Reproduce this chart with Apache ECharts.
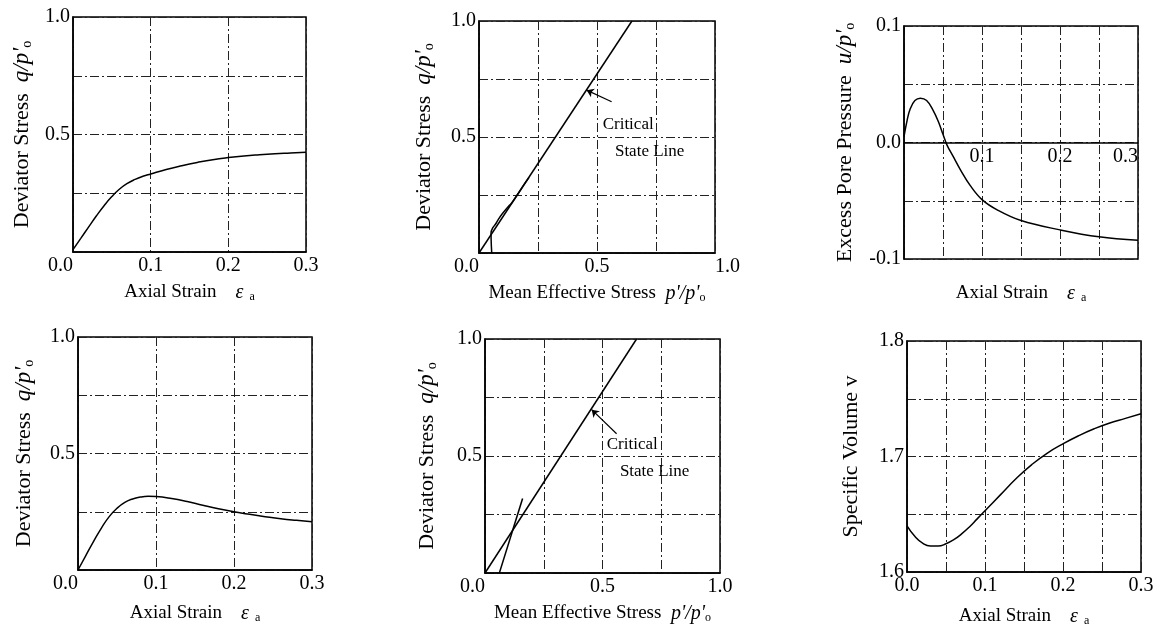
<!DOCTYPE html>
<html>
<head>
<meta charset="utf-8">
<script src="https://cdn.jsdelivr.net/npm/echarts@6/dist/echarts.min.js"></script>
<style>
html,body{margin:0;padding:0;background:#fff;}
#chart{width:1160px;height:628px;}
</style>
</head>
<body>
<div id="chart"></div>
<script>
// ---------- DATA ----------
// Panel 1: deviator stress vs axial strain (top-left)
const p1Strain = [0, 0.01, 0.02, 0.03, 0.04, 0.05, 0.06, 0.07, 0.08, 0.09, 0.10, 0.12, 0.14, 0.16, 0.18, 0.20, 0.22, 0.24, 0.26, 0.28, 0.30];
const p1Stress = [0.01, 0.058, 0.106, 0.153, 0.197, 0.236, 0.268, 0.292, 0.309, 0.322, 0.332, 0.351, 0.367, 0.381, 0.393, 0.402, 0.409, 0.414, 0.418, 0.421, 0.424];

// Panel 2: stress path + critical state line (top-middle)
const p2CslP = [0, 0.648];
const p2CslQ = [0, 1.0];
const p2PathP = [0.054, 0.052, 0.051, 0.058, 0.069, 0.082, 0.097, 0.118, 0.14, 0.162, 0.183, 0.212];
const p2PathQ = [0, 0.04, 0.087, 0.108, 0.123, 0.145, 0.167, 0.193, 0.218, 0.25, 0.283, 0.326];

// Panel 3: excess pore pressure vs axial strain (top-right)
const p3Strain = [0, 0.004, 0.008, 0.014, 0.021, 0.029, 0.037, 0.044, 0.05, 0.055, 0.063, 0.072, 0.085, 0.1, 0.12, 0.15, 0.2, 0.25, 0.3];
const p3Pore = [0.005, 0.019, 0.029, 0.036, 0.038, 0.036, 0.028, 0.018, 0.007, -0.002, -0.012, -0.023, -0.037, -0.049, -0.058, -0.067, -0.075, -0.081, -0.084];

// Panel 4: deviator stress vs axial strain (bottom-left)
const p4Strain = [0, 0.01, 0.02, 0.03, 0.04, 0.05, 0.06, 0.07, 0.08, 0.09, 0.10, 0.12, 0.14, 0.16, 0.18, 0.20, 0.22, 0.24, 0.26, 0.28, 0.30];
const p4Stress = [0, 0.062, 0.123, 0.18, 0.229, 0.265, 0.29, 0.305, 0.313, 0.316, 0.315, 0.307, 0.294, 0.278, 0.263, 0.25, 0.239, 0.229, 0.22, 0.213, 0.207];

// Panel 5: stress path + critical state line (bottom-middle)
const p5CslP = [0, 0.645];
const p5CslQ = [0, 1.0];
const p5PathP = [0.061, 0.16];
const p5PathQ = [0, 0.318];

// Panel 6: specific volume vs axial strain (bottom-right)
const p6Strain = [0, 0.01, 0.02, 0.03, 0.04, 0.05, 0.06, 0.07, 0.08, 0.09, 0.10, 0.12, 0.14, 0.16, 0.18, 0.20, 0.22, 0.24, 0.26, 0.28, 0.30];
const p6Volume = [1.640, 1.631, 1.625, 1.6225, 1.6225, 1.6245, 1.628, 1.633, 1.639, 1.646, 1.653, 1.667, 1.681, 1.693, 1.703, 1.711, 1.718, 1.724, 1.729, 1.733, 1.737];

// Tick labels
const strainTickVals = [0, 0.1, 0.2, 0.3];
const strainTickLabels = ['0.0', '0.1', '0.2', '0.3'];
const poreStrainTickVals = [0.1, 0.2, 0.3];
const poreStrainTickLabels = ['0.1', '0.2', '0.3'];
const unitTickVals = [0, 0.5, 1.0];
const unitTickLabels = ['0.0', '0.5', '1.0'];
const unitYTickVals = [0.5, 1.0];
const unitYTickLabels = ['0.5', '1.0'];
const poreTickVals = [-0.1, 0, 0.1];
const poreTickLabels = ['-0.1', '0.0', '0.1'];
const volTickVals = [1.6, 1.7, 1.8];
const volTickLabels = ['1.6', '1.7', '1.8'];

// Annotation text
const cslText1 = 'Critical';
const cslText2 = 'State Line';

// ---------- HELPERS ----------
const FONT = "'Liberation Serif', 'Times New Roman', 'DejaVu Serif', serif";
function zip(a, b) { return a.map((v, i) => [v, b[i]]); }
function fmt(vals, labels) {
  return function (v) {
    const i = vals.findIndex(t => Math.abs(t - v) < 1e-9);
    return i >= 0 ? labels[i] : '';
  };
}
const gridLine = { show: true, lineStyle: { color: '#222', width: 1, type: [9, 3, 2, 3] } };
function richFor(size) {
  return {
    i: { fontFamily: FONT, fontStyle: 'italic', fontSize: size + 1, color: '#000' },
    s: { fontFamily: FONT, fontSize: Math.round(size * 0.65), color: '#000', padding: [Math.round(size * 0.45), 0, 0, 0] },
    e: { fontFamily: FONT, fontStyle: 'italic', fontSize: size + 1, color: '#000' },
    n: { fontFamily: FONT, fontSize: size, color: '#000' }
  };
}
const xNameStyle = { fontFamily: FONT, fontSize: 19, color: '#000', rich: richFor(19) };
const yNameStyle = { fontFamily: FONT, fontSize: 22, color: '#000', rich: richFor(22) };
const yNameDev = "{n|Deviator Stress  }{i|q/p'}{s|o}";
const xNameStrain = "{n|Axial Strain    }{e|ε}{s|  a}";
const xNameMean = "{n|Mean Effective Stress  }{i|p'/p'}{s|o}";
const yNamePore = "{n|Excess Pore Pressure  }{i|u/p'}{s|o}";
const yNameVol = "{n|Specific Volume v}";

function xAxis(idx, min, max, interval, vals, labels, name, gap, extra) {
  return Object.assign({
    type: 'value', gridIndex: idx, min: min, max: max, interval: interval,
    name: name, nameLocation: 'middle', nameGap: gap, nameTextStyle: xNameStyle,
    axisLine: { show: true, onZero: false, lineStyle: { color: '#000', width: 1.5 } },
    axisTick: { show: false },
    splitLine: gridLine,
    axisLabel: { formatter: fmt(vals, labels), fontFamily: FONT, fontSize: 20, color: '#000', margin: 4 }
  }, extra || {});
}
function yAxis(idx, min, max, interval, vals, labels, name, gap, extra) {
  return Object.assign({
    type: 'value', gridIndex: idx, min: min, max: max, interval: interval,
    name: name, nameLocation: 'middle', nameGap: gap, nameTextStyle: yNameStyle,
    axisLine: { show: true, onZero: false, lineStyle: { color: '#000', width: 1.5 } },
    axisTick: { show: false },
    splitLine: gridLine,
    axisLabel: { formatter: fmt(vals, labels), fontFamily: FONT, fontSize: 20, color: '#000', margin: 3 }
  }, extra || {});
}
const lineStyle = { color: '#000', width: 1.5 };
function curve(idx, data, smooth) {
  return {
    type: 'line', xAxisIndex: idx, yAxisIndex: idx, data: data,
    showSymbol: false, symbol: 'none', smooth: smooth,
    lineStyle: lineStyle, silent: true, animation: false
  };
}
function noteSeries(idx, items) {
  return {
    type: 'scatter', xAxisIndex: idx, yAxisIndex: idx, symbolSize: 0, silent: true, animation: false,
    data: items.map(it => ({ value: [it[0], it[1]], label: { formatter: it[2] } })),
    label: { show: true, position: [0, 0], align: 'left', verticalAlign: 'middle',
      fontFamily: FONT, fontSize: 17, color: '#000', textBorderWidth: 0, opacity: 1 }
  };
}
function arrow(from, to) {
  return {
    silent: true, symbol: ['none', 'arrow'], symbolSize: 7, animation: false,
    lineStyle: { color: '#000', width: 1.2, type: 'solid' }, label: { show: false },
    data: [[{ coord: from }, { coord: to }]]
  };
}

const gridBase = { show: true, borderColor: '#000', borderWidth: 1.5, containLabel: false };

const option = {
  backgroundColor: '#fff',
  animation: false,
  grid: [
    Object.assign({ left: 73, top: 17, width: 233, height: 235 }, gridBase),
    Object.assign({ left: 479, top: 21, width: 236, height: 232 }, gridBase),
    Object.assign({ left: 904, top: 26, width: 234, height: 233 }, gridBase),
    Object.assign({ left: 78, top: 337, width: 234, height: 233 }, gridBase),
    Object.assign({ left: 485, top: 339, width: 235, height: 234 }, gridBase),
    Object.assign({ left: 907, top: 341, width: 234, height: 232 }, gridBase)
  ],
  xAxis: [
    xAxis(0, 0, 0.3, 0.1, strainTickVals, strainTickLabels, xNameStrain, 30),
    xAxis(1, 0, 1.0, 0.25, unitTickVals, unitTickLabels, xNameMean, 30),
    // panel 3: axis line + labels drawn on the zero level (moved up by offset)
    xAxis(2, 0, 0.3, 0.05, poreStrainTickVals, poreStrainTickLabels, '', 0, { offset: -116.5 }),
    xAxis(3, 0, 0.3, 0.1, strainTickVals, strainTickLabels, xNameStrain, 33),
    xAxis(4, 0, 1.0, 0.25, unitTickVals, unitTickLabels, xNameMean, 30),
    xAxis(5, 0, 0.3, 0.05, strainTickVals, strainTickLabels, xNameStrain, 34),
    // panel 3: name-only axis at the bottom of the frame
    {
      type: 'value', gridIndex: 2, min: 0, max: 0.3, interval: 0.05, position: 'bottom',
      name: xNameStrain, nameLocation: 'middle', nameGap: 24, nameTextStyle: xNameStyle,
      axisLine: { show: false }, axisTick: { show: false }, axisLabel: { show: false }, splitLine: { show: false }
    }
  ],
  yAxis: [
    yAxis(0, 0, 1.0, 0.25, unitYTickVals, unitYTickLabels, yNameDev, 39),
    yAxis(1, 0, 1.0, 0.25, unitYTickVals, unitYTickLabels, yNameDev, 43),
    yAxis(2, -0.1, 0.1, 0.05, poreTickVals, poreTickLabels, yNamePore, 47),
    yAxis(3, 0, 1.0, 0.25, unitYTickVals, unitYTickLabels, yNameDev, 42),
    yAxis(4, 0, 1.0, 0.25, unitYTickVals, unitYTickLabels, yNameDev, 46),
    yAxis(5, 1.6, 1.8, 0.05, volTickVals, volTickLabels, yNameVol, 45)
  ],
  series: [
    curve(0, zip(p1Strain, p1Stress), 0.5),
    Object.assign(curve(1, zip(p2CslP, p2CslQ), false),
      { markLine: arrow([0.562, 0.652], [0.456, 0.702]) }),
    curve(1, zip(p2PathP, p2PathQ), 0.3),
    noteSeries(1, [[0.524, 0.552, cslText1], [0.576, 0.437, cslText2]]),
    curve(2, zip(p3Strain, p3Pore), 0.4),
    curve(3, zip(p4Strain, p4Stress), 0.5),
    Object.assign(curve(4, zip(p5CslP, p5CslQ), false),
      { markLine: arrow([0.56, 0.595], [0.454, 0.698]) }),
    curve(4, zip(p5PathP, p5PathQ), false),
    noteSeries(4, [[0.518, 0.548, cslText1], [0.574, 0.432, cslText2]]),
    curve(5, zip(p6Strain, p6Volume), 0.5)
  ]
};
// corner "0.0" sits left of the frame, below the x axis
[0, 1, 3, 4].forEach(i => { option.xAxis[i].axisLabel.alignMinLabel = 'right'; });
option.xAxis[1].axisLabel.alignMaxLabel = 'left';
option.xAxis[2].axisLabel.alignMaxLabel = 'right';

const chart = echarts.init(document.getElementById('chart'), null, { renderer: 'canvas' });
chart.setOption(option);
</script>
</body>
</html>
